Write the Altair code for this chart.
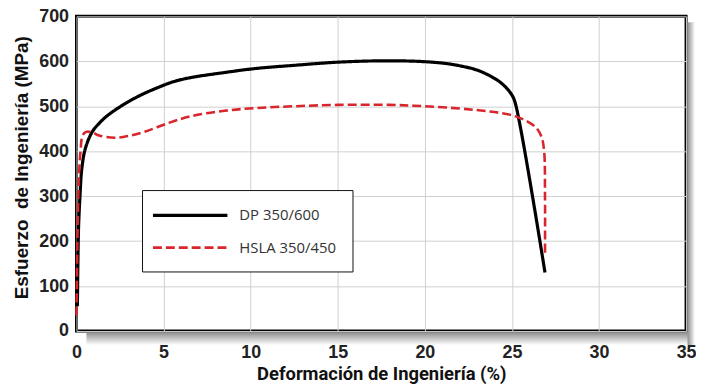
import altair as alt
import pandas as pd

series_names = ["DP 350/600", "HSLA 350/450"]

dp_x = [0.05, 0.08, 0.12, 0.2, 0.3, 0.5, 0.9, 1.3, 1.8, 2.8, 3.7, 4.7, 5.6, 6.6, 8.5,
        10.3, 12.5, 15, 17.5, 19.5, 21, 22, 23.1, 24.2, 24.7, 25.0, 25.2, 26.9]
dp_y = [55, 150, 233, 300, 359, 405, 443, 462, 480, 506, 525, 542, 555, 564, 575,
        584, 591, 598, 601, 600, 596, 590, 579, 557, 540, 525, 506, 130]

hsla_x = [0.0, 0.02, 0.05, 0.1, 0.15, 0.23, 0.35, 0.55, 0.9, 1.3, 2.2, 3.0, 3.9, 5.3,
          6.6, 8.5, 10.3, 12.5, 15, 18, 20, 22, 23.1, 24, 25, 25.9, 26.4, 26.7, 26.85,
          26.9, 26.9]
hsla_y = [35, 100, 200, 300, 352, 400, 435, 443, 442, 435, 430, 434, 443, 463,
          478, 490, 496, 500, 503, 503, 500, 495, 491, 487, 480, 466, 452, 432, 400,
          300, 167]

x_ticks = [0, 5, 10, 15, 20, 25, 30, 35]
y_ticks = [0, 100, 200, 300, 400, 500, 600, 700]

rows = []
for i, (x, y) in enumerate(zip(dp_x, dp_y)):
    rows.append({"serie": series_names[0], "x": x, "y": y, "i": i})
for i, (x, y) in enumerate(zip(hsla_x, hsla_y)):
    rows.append({"serie": series_names[1], "x": x, "y": y, "i": i})
df = pd.DataFrame(rows)

W, H = 614, 317

leg = dict(title=None, orient="none", legendX=66, legendY=175,
           symbolType="M-1.933,0H8.067", symbolSize=225,
           symbolStrokeWidth=3, symbolFillColor="transparent",
           labelOffset=63, rowPadding=15, padding=16,
           strokeColor="#111", fillColor="white",
           labelFont="Open Sans", labelFontSize=15, labelColor="#333")

lines = alt.Chart(df).mark_line(interpolate="catmull-rom", strokeCap="butt", strokeJoin="round").encode(
    x=alt.X("x:Q", scale=alt.Scale(domain=[0, 35], nice=False),
            axis=alt.Axis(values=x_ticks, title="Deformación de Ingeniería (%)",
                          titleFont="Roboto", titleFontSize=18.5,
                          titleFontWeight="bold", titleColor="#111",
                          titleY=49, titleBaseline="alphabetic", labelPadding=13,
                          labelFlush=False)),
    y=alt.Y("y:Q", scale=alt.Scale(domain=[0, 700], nice=False),
            axis=alt.Axis(values=y_ticks, title="Esfuerzo\u00a0 de Ingeniería (MPa)",
                          titleFont="Liberation Sans", titleFontSize=19,
                          titleFontWeight="bold", titleColor="#111",
                          titleAngle=270, titleX=-45.5, titleY=152,
                          titleAlign="center", titleBaseline="bottom", labelPadding=8)),
    color=alt.Color("serie:N", scale=alt.Scale(domain=series_names, range=["#000000", "#d8262c"]),
                    legend=alt.Legend(**leg)),
    strokeDash=alt.StrokeDash("serie:N", scale=alt.Scale(domain=series_names, range=[[1, 0], [9, 4]]),
                              legend=alt.Legend(**leg)),
    strokeWidth=alt.StrokeWidth("serie:N", scale=alt.Scale(domain=series_names, range=[3.2, 2.6]),
                                legend=None),
    order="i:Q",
)

shadow_grad_v = alt.LinearGradient(
    gradient="linear",
    stops=[alt.GradientStop(color="#8f8f8f", offset=0), alt.GradientStop(color="#ffffff", offset=1)],
    x1=0, x2=0, y1=0, y2=1)
shadow_grad_h = alt.LinearGradient(
    gradient="linear",
    stops=[alt.GradientStop(color="#8f8f8f", offset=0), alt.GradientStop(color="#ffffff", offset=1)],
    x1=0, x2=1, y1=0, y2=0)

shadow_bottom = alt.Chart(pd.DataFrame({"a": [0]})).mark_rect(fill=shadow_grad_v).encode(
    x=alt.value(10), x2=alt.value(W + 9), y=alt.value(H + 1.5), y2=alt.value(H + 14))
shadow_right = alt.Chart(pd.DataFrame({"a": [0]})).mark_rect(fill=shadow_grad_h).encode(
    x=alt.value(W + 1.5), x2=alt.value(W + 9), y=alt.value(6), y2=alt.value(H + 14))

chart = alt.layer(shadow_bottom, shadow_right, lines).properties(
    width=W, height=H,
    autosize=alt.AutoSizeParams(type="none"),
    padding={"left": 69, "top": 7, "right": 10, "bottom": 57},
).configure_view(
    stroke="#000", strokeWidth=3
).configure_axis(
    labelFont="Liberation Sans", labelFontSize=18, labelFontWeight="bold", labelColor="#222",
    grid=True, gridColor="#d0d0d0", gridWidth=1, ticks=False, domain=False,
)

chart.save("out.html", embed_options={"renderer": "svg", "actions": False})
